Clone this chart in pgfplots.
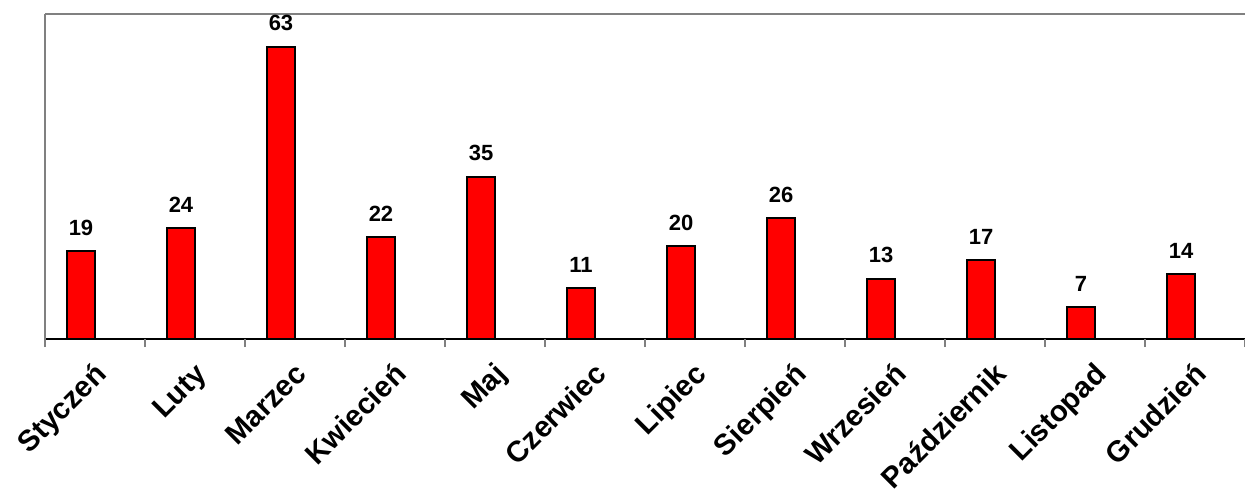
\documentclass[border=0pt]{standalone}
\usepackage{pgfplots}
\pgfplotsset{compat=1.18}
\usepackage{fontspec}
\setmainfont{Liberation Sans}
\begin{document}
\begin{tikzpicture}
\begin{axis}[
  scale only axis, width=900pt, height=243.75pt,
  at={(0,0)}, anchor=south west,
  xmin=-0.5, xmax=11.5, ymin=0, ymax=70,
  axis x line*=bottom, axis y line*=left,
  x axis line style={black, line width=1.5pt},
  y axis line style={gray, line width=1.5pt},
  ytick=\empty,
  xtick={0,...,11},
  xticklabels={Styczeń,Luty,Marzec,Kwiecień,Maj,Czerwiec,Lipiec,Sierpień,Wrzesień,Październik,Listopad,Grudzień},
  major tick length=0pt,
  extra x ticks={-0.5,0.5,...,11.5},
  extra x tick labels={},
  extra x tick style={major tick length=6pt, tick align=outside, major tick style={gray, line width=0.8pt}},
  xticklabel style={xshift=4.5pt, yshift=-22.5pt, rotate=45, anchor=north east, inner sep=0pt, text height=0.72em, font=\bfseries\fontsize{22}{22}\selectfont},
  /pgf/number format/assume math mode=true,
  ybar, bar width=21.5pt, bar shift=-10.5pt,
  nodes near coords,
  every node near coord/.append style={font=\bfseries\fontsize{16.5}{16.5}\selectfont, yshift=7.5pt},
  clip=false,
]
\addplot[fill=red, draw=black, line width=1.5pt] coordinates {
(0,19) (1,24) (2,63) (3,22) (4,35) (5,11) (6,20) (7,26) (8,13) (9,17) (10,7) (11,14)};
\draw[gray, line width=1.5pt] (rel axis cs:0,1) -- (rel axis cs:1,1);
\end{axis}
\pgfresetboundingbox
\path[use as bounding box] (-33.75pt,-112.5pt) rectangle (900pt,254.25pt);
\end{tikzpicture}
\end{document}
